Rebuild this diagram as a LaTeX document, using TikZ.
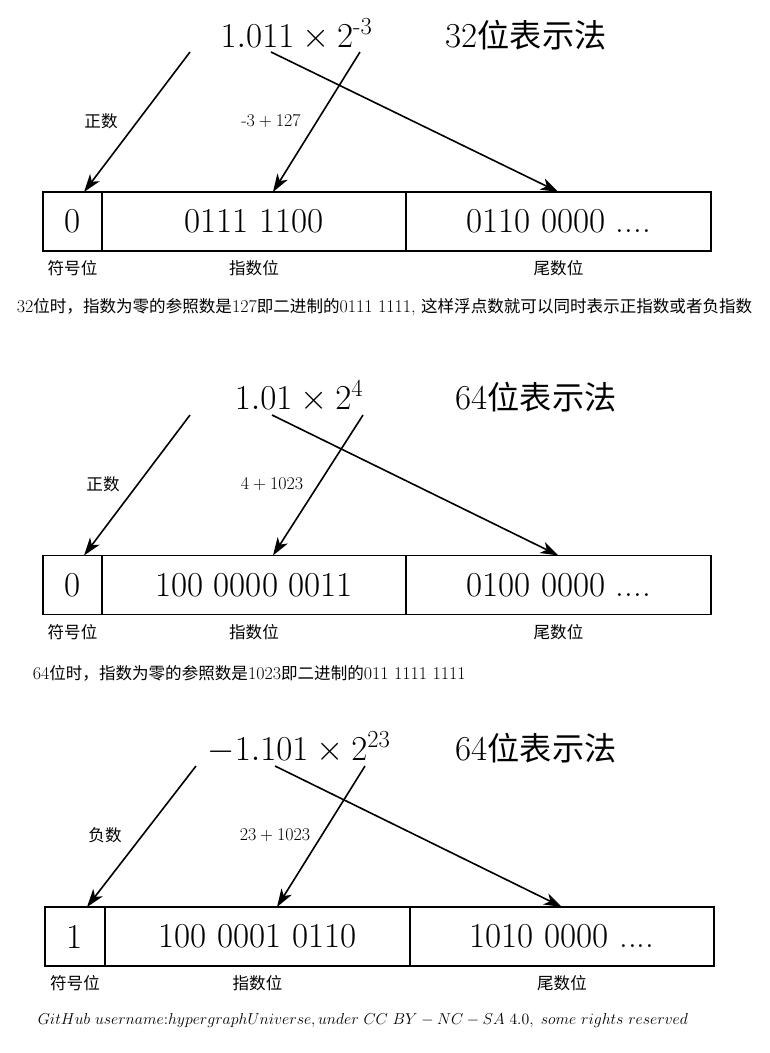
\RequirePackage{fix-cm}
\documentclass[tikz,border=0pt]{standalone}
\usepackage{amsmath}
\usepackage{fontspec}
\newfontfamily\cjk[Scale=0.92]{Noto Sans CJK SC}
\usetikzlibrary{positioning,arrows.meta}
\newcommand{\bigfnt}{\fontsize{35}{40}\selectfont}
\newcommand{\smallfnt}{\fontsize{18}{21}\selectfont}
\newcommand{\footfnt}{\fontsize{15.8}{19}\selectfont}
\begin{document}
\begin{tikzpicture}[x=1pt, y=-1pt, line width=1.6pt,
    cell/.style={draw, minimum height=59pt, inner sep=0pt, outer sep=0pt, font=\bigfnt},
    lbl/.style={inner sep=0pt, font=\smallfnt},
    head/.style={anchor=base, inner sep=0pt, font=\bigfnt},
    arr/.style={-{Stealth[length=18pt, width=12pt, inset=5pt]}}]
\useasboundingbox (0,0) rectangle (769,1053);
\node[head] (num1) at (296.5,47) {$1.011\times2^{\text{-}3}$};
\node[head] (fmt1) at (526,47) {32{\cjk 位表示法}};
\node[cell, minimum width=59pt] (s1) at (72.5,221.5) {0};
\node[cell, minimum width=304pt, right=0pt of s1] (e1) {0111 1100};
\node[cell, minimum width=305pt, right=0pt of e1] (m1) {0110 0000 ....};
\node[lbl, below=9pt of s1] (sl1) {\cjk 符号位};
\node[lbl, below=9pt of e1] (el1) {\cjk 指数位};
\node[lbl, below=9pt of m1] (ml1) {\cjk 尾数位};
\node[lbl] (sg1) at (101,121) {\cjk 正数};
\node[lbl] (ex1) at (271,121) {$\text{-}3+127$};
\node[lbl, anchor=west] (note1) at (16,307) {32{\cjk 位时，指数为零的参照数是}127{\cjk 即二进制的}0111 1111, {\cjk 这样浮点数就可以同时表示正指数或者负指数}};
\coordinate (a1) at (190,52);
\coordinate (b1) at (360,52);
\coordinate (c1) at (271,52);
\draw[arr] (a1) -- ([xshift=11.5pt]s1.north);
\draw[arr] (b1) -- ([xshift=19pt]e1.north);
\draw[arr] (c1) -- (m1.north);
\node[head] (num2) at (299,409) {$1.01\times2^4$};
\node[head] (fmt2) at (536,409) {64{\cjk 位表示法}};
\node[cell, minimum width=59pt] (s2) at (72.5,585) {0};
\node[cell, minimum width=304pt, right=0pt of s2] (e2) {100 0000 0011};
\node[cell, minimum width=305pt, right=0pt of e2] (m2) {0100 0000 ....};
\node[lbl, below=9pt of s2] (sl2) {\cjk 符号位};
\node[lbl, below=9pt of e2] (el2) {\cjk 指数位};
\node[lbl, below=9pt of m2] (ml2) {\cjk 尾数位};
\node[lbl] (sg2) at (103,484) {\cjk 正数};
\node[lbl] (ex2) at (272,484) {$4+1023$};
\node[lbl, anchor=west] (note2) at (32,673) {64{\cjk 位时，指数为零的参照数是}1023{\cjk 即二进制的}011 1111 1111};
\coordinate (a2) at (190,415);
\coordinate (b2) at (363,415);
\coordinate (c2) at (272,415);
\draw[arr] (a2) -- ([xshift=11.5pt]s2.north);
\draw[arr] (b2) -- ([xshift=19pt]e2.north);
\draw[arr] (c2) -- (m2.north);
\node[head] (num3) at (299,760) {$-1.101\times2^{23}$};
\node[head] (fmt3) at (536,760) {64{\cjk 位表示法}};
\node[cell, minimum width=60pt] (s3) at (75,936.5) {1};
\node[cell, minimum width=305pt, right=0pt of s3] (e3) {100 0001 0110};
\node[cell, minimum width=304pt, right=0pt of e3] (m3) {1010 0000 ....};
\node[lbl, below=9pt of s3] (sl3) {\cjk 符号位};
\node[lbl, below=9pt of e3] (el3) {\cjk 指数位};
\node[lbl, below=9pt of m3] (ml3) {\cjk 尾数位};
\node[lbl] (sg3) at (105,835) {\cjk 负数};
\node[lbl] (ex3) at (275,835) {$23+1023$};
\coordinate (a3) at (196,766);
\coordinate (b3) at (365,766);
\coordinate (c3) at (275,766);
\draw[arr] (a3) -- ([xshift=12pt]s3.north);
\draw[arr] (b3) -- ([xshift=19.5pt]e3.north);
\draw[arr] (c3) -- (m3.north);
\node[lbl, anchor=west, font=\footfnt] (foot) at (37,1021) {$GitHub\ username{:}hypergraphUniverse,under\ CC\ BY-NC-SA\ 4.0,\ some\ rights\ reserved$};
\end{tikzpicture}
\end{document}
